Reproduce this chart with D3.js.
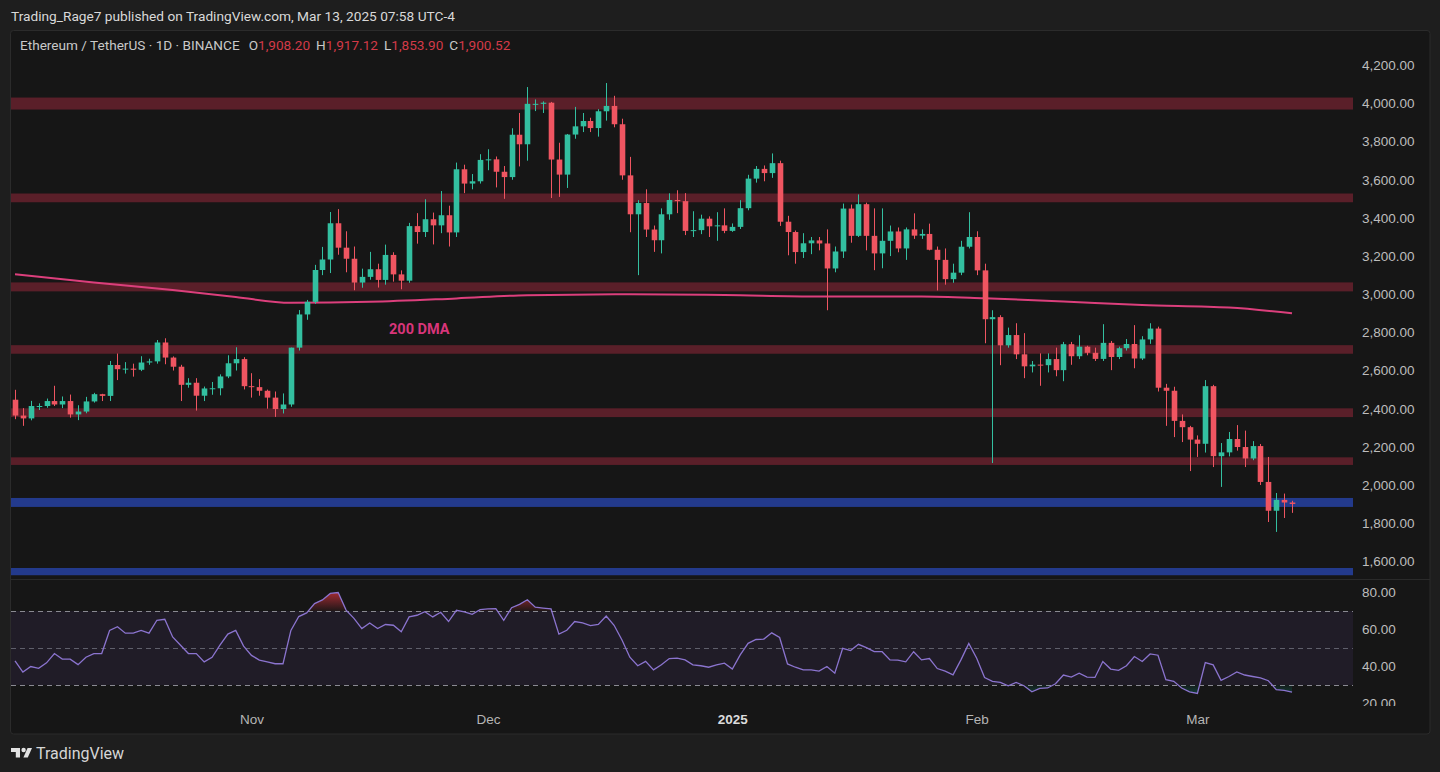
<!DOCTYPE html>
<html>
<head>
<meta charset="utf-8">
<title>ETH/USDT 1D</title>
<script src="https://cdn.jsdelivr.net/npm/d3@7"></script>
<style>
  html, body { margin: 0; padding: 0; background: #1e1e1e; overflow: hidden; }
  svg { display: block; font-family: Roboto, "Noto Sans", "DejaVu Sans", sans-serif; }
</style>
</head>
<body>
<div id="chart"></div>
<script>
// ---- data (daily candles, 2 Oct 2024 -> 13 Mar 2025) ----
const firstDay = '2024-10-02';
const lastDay = '2025-03-13';

const opens = [
  2447, 2364, 2349, 2414, 2414, 2440, 2422, 2440, 2370, 2385,
  2438, 2476, 2467, 2629, 2607, 2610, 2604, 2642, 2648, 2747,
  2668, 2620, 2525, 2536, 2468, 2506, 2507, 2569, 2638, 2660,
  2518, 2513, 2494, 2458, 2398, 2422, 2720, 2894, 2960, 3127,
  3182, 3372, 3244, 3186, 3061, 3091, 3131, 3075, 3206, 3104,
  3071, 3357, 3326, 3393, 3361, 3414, 3324, 3655, 3580, 3592,
  3704, 3707, 3642, 3614, 3836, 3786, 3998, 3998, 4004, 3706,
  3627, 3837, 3880, 3908, 3871, 3959, 3987, 3891, 3623, 3419,
  3478, 3339, 3283, 3419, 3494, 3488, 3332, 3336, 3396, 3356,
  3361, 3332, 3353, 3451, 3606, 3657, 3635, 3687, 3380, 3326,
  3221, 3267, 3282, 3266, 3135, 3224, 3449, 3306, 3472, 3306,
  3214, 3280, 3329, 3240, 3340, 3307, 3316, 3233, 3180, 3079,
  3113, 3249, 3300, 3125, 2869, 2880, 2732, 2786, 2685, 2622,
  2631, 2628, 2660, 2602, 2738, 2675, 2725, 2693, 2661, 2745,
  2671, 2717, 2739, 2663, 2763, 2820, 2510, 2494, 2336, 2303,
  2238, 2216, 2518, 2151, 2171, 2241, 2199, 2139, 2204, 2016,
  1865, 1922, 1908.20
];
const highs = [
  2499, 2403, 2441, 2428, 2453, 2520, 2464, 2474, 2418, 2462,
  2483, 2478, 2650, 2689, 2644, 2636, 2675, 2662, 2760, 2769,
  2674, 2630, 2560, 2560, 2516, 2540, 2580, 2680, 2722, 2670,
  2586, 2555, 2500, 2490, 2480, 2720, 2917, 2970, 3154, 3248,
  3431, 3446, 3330, 3250, 3134, 3222, 3160, 3260, 3220, 3125,
  3374, 3425, 3498, 3428, 3541, 3464, 3690, 3679, 3630, 3734,
  3760, 3722, 3672, 3870, 3950, 4086, 4021, 4011, 4008, 3794,
  3840, 3982, 3950, 3925, 3970, 4107, 4040, 3920, 3720, 3493,
  3550, 3360, 3450, 3529, 3545, 3530, 3435, 3417, 3408, 3430,
  3450, 3371, 3493, 3626, 3672, 3675, 3738, 3700, 3411, 3334,
  3320, 3300, 3300, 3340, 3250, 3475, 3470, 3523, 3480, 3450,
  3450, 3360, 3350, 3350, 3424, 3340, 3370, 3250, 3240, 3160,
  3280, 3430, 3330, 3160, 2916, 2890, 2825, 2848, 2796, 2650,
  2690, 2690, 2720, 2750, 2750, 2785, 2730, 2720, 2843, 2755,
  2725, 2765, 2838, 2780, 2848, 2830, 2530, 2515, 2370, 2310,
  2260, 2550, 2525, 2220, 2278, 2314, 2285, 2230, 2215, 2147,
  1958, 1955, 1917.12
];
const lows = [
  2345, 2310, 2339, 2393, 2405, 2414, 2403, 2353, 2340, 2376,
  2432, 2440, 2440, 2550, 2584, 2568, 2597, 2630, 2636, 2633,
  2600, 2440, 2510, 2390, 2440, 2473, 2470, 2560, 2600, 2501,
  2458, 2468, 2400, 2357, 2375, 2410, 2705, 2866, 2950, 3100,
  3111, 3207, 3115, 3021, 3034, 3076, 3035, 3050, 3066, 3026,
  3060, 3265, 3300, 3261, 3320, 3250, 3300, 3530, 3550, 3580,
  3650, 3560, 3500, 3600, 3670, 3700, 3960, 3950, 3504, 3510,
  3557, 3815, 3850, 3850, 3826, 3910, 3875, 3600, 3325, 3100,
  3300, 3222, 3214, 3390, 3425, 3310, 3300, 3315, 3300, 3280,
  3320, 3327, 3342, 3440, 3585, 3592, 3610, 3358, 3204, 3160,
  3190, 3210, 3230, 2916, 3115, 3190, 3270, 3300, 3230, 3126,
  3136, 3200, 3220, 3180, 3290, 3290, 3230, 3020, 3050, 3060,
  3100, 3240, 3100, 2743, 2115, 2628, 2720, 2660, 2560, 2590,
  2520, 2590, 2570, 2544, 2630, 2660, 2680, 2650, 2650, 2602,
  2660, 2705, 2612, 2655, 2740, 2490, 2310, 2251, 2225, 2073,
  2147, 2170, 2094, 1990, 2150, 2180, 2094, 2130, 2000, 1806,
  1754, 1827, 1853.90
];
const closes = [
  2364, 2349, 2414, 2414, 2440, 2422, 2440, 2370, 2385, 2438,
  2476, 2467, 2629, 2607, 2610, 2604, 2642, 2648, 2747, 2668,
  2620, 2525, 2536, 2468, 2506, 2507, 2569, 2638, 2660, 2518,
  2513, 2494, 2458, 2398, 2422, 2720, 2894, 2960, 3127, 3182,
  3372, 3244, 3186, 3061, 3091, 3131, 3075, 3206, 3104, 3071,
  3357, 3326, 3393, 3361, 3414, 3324, 3655, 3580, 3592, 3704,
  3707, 3642, 3614, 3836, 3786, 3998, 3998, 4004, 3706, 3627,
  3837, 3880, 3908, 3871, 3959, 3987, 3891, 3623, 3419, 3478,
  3339, 3283, 3419, 3494, 3488, 3332, 3336, 3396, 3356, 3361,
  3332, 3353, 3451, 3606, 3657, 3635, 3687, 3380, 3326, 3221,
  3267, 3282, 3266, 3135, 3224, 3449, 3306, 3472, 3306, 3214,
  3280, 3329, 3240, 3340, 3307, 3316, 3233, 3180, 3079, 3113,
  3249, 3300, 3125, 2869, 2880, 2732, 2786, 2685, 2622, 2631,
  2628, 2660, 2602, 2738, 2675, 2725, 2693, 2661, 2745, 2671,
  2717, 2739, 2663, 2763, 2820, 2510, 2494, 2336, 2303, 2238,
  2216, 2518, 2151, 2171, 2241, 2199, 2139, 2204, 2016, 1865,
  1922, 1908.20, 1900.52
];

const rsiValues = [
  43, 37, 40, 39, 42, 47, 44, 44, 41, 45,
  47, 47, 59.5, 61.5, 58, 58, 59.5, 58, 65, 65.5,
  56, 51.5, 47, 47, 42.5, 45, 51.5, 57.5, 59.5, 51,
  46, 43.5, 42.5, 41.5, 41.5, 59.5, 67, 69, 74, 76,
  79.5, 80, 70.5, 66, 60.5, 63.5, 60.5, 62.7, 62.3, 58.8,
  66.8, 67.7, 69.6, 66.8, 69.3, 64.3, 70.4, 69.5, 68.2, 70.7,
  71.1, 71.3, 65, 71.8, 73.6, 76.1, 72.1, 71.6, 71.1, 57.5,
  59.6, 64.3, 63.6, 62.1, 62.7, 67.3, 62.3, 54.3, 45, 40.4,
  42.8, 38.2, 40.9, 44.3, 44.5, 43.6, 40.9, 40.4, 39.6, 40.9,
  41.8, 38.6, 46.3, 52.5, 54.6, 54.8, 58.2, 55.7, 41.4, 39.6,
  38.2, 38.2, 37.5, 40, 36.4, 49.8, 48.6, 52, 50.2, 48,
  48, 43.6, 43.4, 42.5, 48, 43.6, 44.3, 38.9, 37.5, 35.5,
  43.6, 52.5, 44.5, 34, 32, 31.4, 29.6, 31.4, 29.6, 26.3,
  28.2, 28.4, 30.7, 35.4, 34.3, 36.4, 34.3, 34.1, 42.7, 38.6,
  37.9, 40.4, 45.4, 42.7, 46.8, 46.1, 32.9, 32, 28.4, 26.3,
  25.4, 42.1, 40.9, 32.5, 34.6, 37.1, 35.4, 34.6, 33.8, 32.3,
  27.5, 27.1, 26.1
];

// 200 day moving average, sampled along the pink line (candle index -> price)
const dmaIndex = [0, 10, 20, 28, 35, 45, 56, 65, 78, 90, 102, 115, 123, 133, 143, 154, 162];
const dmaValue = [3105, 3062, 3022, 2985, 2955, 2960, 2978, 2995, 3000, 2996, 2988, 2988, 2979, 2962, 2943, 2930, 2900];

// support / resistance zones drawn on the chart
const zoneLow  = [3968, 3482, 3015, 2688, 2356, 2105, 1885, 1527];
const zoneHigh = [4031, 3528, 3062, 2733, 2402, 2145, 1932, 1565];
const zoneColor = ['red', 'red', 'red', 'red', 'red', 'red', 'blue', 'blue'];

const priceTicks = [1600, 1800, 2000, 2200, 2400, 2600, 2800, 3000, 3200, 3400, 3600, 3800, 4000, 4200];
const rsiTicks = [20, 40, 60, 80];
const rsiBands = [70, 50, 30];
const monthTicks = ['2024-11-01', '2024-12-01', '2025-01-01', '2025-02-01', '2025-03-01'];

const headerText = 'Trading_Rage7 published on TradingView.com, Mar 13, 2025 07:58 UTC-4';
const symbolText = 'Ethereum / TetherUS \u00b7 1D \u00b7 BINANCE';
const ohlcLabels = ['O', 'H', 'L', 'C'];
const ohlcValues = [1908.20, 1917.12, 1853.90, 1900.52];


class CandleChart {

  constructor(el) {
    this.element = el;
    this.width = 1440;
    this.height = 772;
    // price pane, rsi pane, axis strips
    this.pane = { left: 11, right: 1353, top: 31, bottom: 579 };
    this.rsiPane = { top: 579, bottom: 706 };
    this.frameRight = 1430;
    this.frameBottom = 734;
    this.upColor = '#33bfa0';
    this.downColor = '#ef5561';
    this.draw();
  }

  draw() {
    this.svg = d3.select(this.element).append('svg')
      .attr('width', this.width)
      .attr('height', this.height);

    this.svg.append('rect')
      .attr('width', this.width).attr('height', this.height)
      .attr('fill', '#1e1e1e');

    this.days = d3.utcDay.range(new Date(firstDay), d3.utcDay.offset(new Date(lastDay), 1));

    this.createScales();
    this.addFrame();
    this.addZones();
    this.addDma();
    this.addCandles();
    this.addRsi();
    this.addAxes();
    this.addTexts();
  }

  createScales() {
    const days = this.days;
    this.x = d3.scaleUtc()
      .domain([days[0], days[days.length - 1]])
      .range([15, 1292]);

    this.y = d3.scaleLinear()
      .domain([1600, 4200])
      .range([561.3, 65.3]);

    this.yRsi = d3.scaleLinear()
      .domain([20, 80])
      .range([703.5, 592.5]);
  }

  addFrame() {
    const p = this.pane;
    this.svg.append('rect')
      .attr('x', p.left - 0.5).attr('y', p.top - 0.5)
      .attr('width', this.frameRight - p.left + 0.5)
      .attr('height', this.frameBottom - p.top + 0.5)
      .attr('rx', 3)
      .attr('fill', '#161616')
      .attr('stroke', '#2b2b2b');

    // pane separator
    this.svg.append('line')
      .attr('x1', p.left).attr('x2', this.frameRight)
      .attr('y1', p.bottom + 0.5).attr('y2', p.bottom + 0.5)
      .attr('stroke', '#2a2a2a');

    const defs = this.svg.append('defs');
    defs.append('clipPath').attr('id', 'clip-price')
      .append('rect')
      .attr('x', p.left).attr('y', p.top)
      .attr('width', p.right - p.left).attr('height', p.bottom - p.top);
    defs.append('clipPath').attr('id', 'clip-rsi')
      .append('rect')
      .attr('x', p.left).attr('y', this.rsiPane.top + 1)
      .attr('width', p.right - p.left).attr('height', this.rsiPane.bottom - this.rsiPane.top - 1);
    defs.append('clipPath').attr('id', 'clip-rsi-axis')
      .append('rect')
      .attr('x', p.right).attr('y', this.rsiPane.top + 1)
      .attr('width', this.frameRight - p.right).attr('height', this.rsiPane.bottom - this.rsiPane.top - 1);
    defs.append('clipPath').attr('id', 'clip-ob')
      .append('rect')
      .attr('x', p.left).attr('y', this.rsiPane.top)
      .attr('width', p.right - p.left).attr('height', this.yRsi(70) - this.rsiPane.top);
    defs.append('clipPath').attr('id', 'clip-os')
      .append('rect')
      .attr('x', p.left).attr('y', this.yRsi(30))
      .attr('width', p.right - p.left).attr('height', this.rsiPane.bottom - this.yRsi(30));

    const ob = defs.append('linearGradient').attr('id', 'grad-ob')
      .attr('gradientUnits', 'userSpaceOnUse')
      .attr('x1', 0).attr('x2', 0)
      .attr('y1', this.yRsi(81)).attr('y2', this.yRsi(70));
    ob.append('stop').attr('offset', 0).attr('stop-color', '#e0343f').attr('stop-opacity', 0.75);
    ob.append('stop').attr('offset', 1).attr('stop-color', '#e0343f').attr('stop-opacity', 0.05);

    const os = defs.append('linearGradient').attr('id', 'grad-os')
      .attr('gradientUnits', 'userSpaceOnUse')
      .attr('x1', 0).attr('x2', 0)
      .attr('y1', this.yRsi(30)).attr('y2', this.yRsi(22));
    os.append('stop').attr('offset', 0).attr('stop-color', '#089981').attr('stop-opacity', 0.05);
    os.append('stop').attr('offset', 1).attr('stop-color', '#089981').attr('stop-opacity', 0.5);
  }

  addZones() {
    const p = this.pane;
    const g = this.svg.append('g').attr('clip-path', 'url(#clip-price)');
    g.selectAll('.zone')
      .data(zoneLow.map((lo, i) => ({ lo: lo, hi: zoneHigh[i], kind: zoneColor[i] })))
      .join('rect')
      .attr('class', 'zone')
      .attr('x', p.left)
      .attr('width', p.right - p.left)
      .attr('y', d => this.y(d.hi))
      .attr('height', d => this.y(d.lo) - this.y(d.hi))
      .attr('fill', d => d.kind === 'blue' ? '#233a8c' : '#5a1f29');
  }

  addDma() {
    const line = d3.line()
      .curve(d3.curveMonotoneX)
      .x(i => this.x(this.days[i]))
      .y((i, k) => this.y(dmaValue[k]));

    this.svg.append('g').attr('clip-path', 'url(#clip-price)')
      .append('path')
      .attr('d', line(dmaIndex))
      .attr('fill', 'none')
      .attr('stroke', '#dc3f7c')
      .attr('stroke-width', 2);
  }

  addCandles() {
    const idx = d3.range(this.days.length);
    const bw = 5.6;
    const colour = i => closes[i] >= opens[i] ? this.upColor : this.downColor;
    const cx = i => Math.round(this.x(this.days[i])) + 0.5;

    const g = this.svg.append('g').attr('clip-path', 'url(#clip-price)');

    g.selectAll('.wick').data(idx).join('line')
      .attr('class', 'wick')
      .attr('x1', cx).attr('x2', cx)
      .attr('y1', i => this.y(highs[i]))
      .attr('y2', i => this.y(lows[i]))
      .attr('stroke', colour)
      .attr('stroke-width', 1);

    g.selectAll('.body').data(idx).join('rect')
      .attr('class', 'body')
      .attr('x', i => cx(i) - bw / 2)
      .attr('width', bw)
      .attr('y', i => this.y(Math.max(opens[i], closes[i])))
      .attr('height', i => Math.max(1, Math.abs(this.y(opens[i]) - this.y(closes[i]))))
      .attr('fill', colour);
  }

  addRsi() {
    const p = this.pane;
    const yr = this.yRsi;
    const g = this.svg.append('g').attr('clip-path', 'url(#clip-rsi)');
    const idx = d3.range(rsiValues.length);
    const xi = i => this.x(this.days[i]);

    // 30-70 background band
    g.append('rect')
      .attr('x', p.left).attr('width', p.right - p.left)
      .attr('y', yr(70)).attr('height', yr(30) - yr(70))
      .attr('fill', '#7e57c2').attr('fill-opacity', 0.1);

    // dashed guide lines
    g.selectAll('.band').data(rsiBands).join('line')
      .attr('class', 'band')
      .attr('x1', p.left).attr('x2', p.right)
      .attr('y1', d => Math.round(yr(d)) + 0.5)
      .attr('y2', d => Math.round(yr(d)) + 0.5)
      .attr('stroke', d => d === 50 ? '#5f5f6b' : '#8a8a92')
      .attr('stroke-dasharray', '5 4');

    // overbought / oversold shading
    g.append('path')
      .attr('clip-path', 'url(#clip-ob)')
      .attr('d', d3.area().x(xi).y0(yr(70)).y1(i => yr(rsiValues[i]))(idx))
      .attr('fill', 'url(#grad-ob)');
    g.append('path')
      .attr('clip-path', 'url(#clip-os)')
      .attr('d', d3.area().x(xi).y0(yr(30)).y1(i => yr(rsiValues[i]))(idx))
      .attr('fill', 'url(#grad-os)');

    g.append('path')
      .attr('d', d3.line().x(xi).y(i => yr(rsiValues[i]))(idx))
      .attr('fill', 'none')
      .attr('stroke', '#8b74cf')
      .attr('stroke-width', 1.3);
  }

  addAxes() {
    const p = this.pane;
    const fmt = d3.format(',.2f');

    const yAxis = d3.axisRight(this.y)
      .tickValues(priceTicks)
      .tickFormat(fmt)
      .tickSize(0)
      .tickPadding(9);

    const ya = this.svg.append('g')
      .attr('transform', `translate(${p.right},0)`)
      .call(yAxis);
    ya.select('.domain').remove();
    ya.selectAll('text').attr('fill', '#bdbdbd').style('font-size', '13.5px');

    const rAxis = d3.axisRight(this.yRsi)
      .tickValues(rsiTicks)
      .tickFormat(fmt)
      .tickSize(0)
      .tickPadding(9);

    const ra = this.svg.append('g')
      .attr('clip-path', 'url(#clip-rsi-axis)')
      .append('g')
      .attr('transform', `translate(${p.right},0)`)
      .call(rAxis);
    ra.select('.domain').remove();
    ra.selectAll('text').attr('fill', '#bdbdbd').style('font-size', '13.5px');

    // month labels under the rsi pane
    const xAxis = d3.axisBottom(this.x)
      .tickValues(monthTicks.map(d => new Date(d)))
      .tickFormat(d => d.getUTCMonth() === 0 ? d3.utcFormat('%Y')(d) : d3.utcFormat('%b')(d))
      .tickSize(0)
      .tickPadding(8);

    const xa = this.svg.append('g')
      .attr('transform', `translate(0,${this.rsiPane.bottom})`)
      .call(xAxis);
    xa.select('.domain').remove();
    xa.selectAll('text')
      .attr('fill', d => d.getUTCMonth() === 0 ? '#dcdcdc' : '#b5b5b5')
      .style('font-weight', d => d.getUTCMonth() === 0 ? 'bold' : 'normal')
      .style('font-size', '13.5px');
  }

  addTexts() {
    this.svg.append('text')
      .attr('x', 11).attr('y', 21)
      .attr('fill', '#d9d9d9')
      .style('font-size', '13.7px')
      .text(headerText);

    const legend = this.svg.append('text')
      .attr('x', 20).attr('y', 50)
      .attr('fill', '#c9c9c9')
      .style('font-size', '13.6px');
    legend.append('tspan').text(symbolText);
    ohlcLabels.forEach((lab, k) => {
      legend.append('tspan').attr('dx', k === 0 ? 9 : 6).text(lab);
      legend.append('tspan').attr('fill', '#d23a48').text(d3.format(',.2f')(ohlcValues[k]));
    });

    this.svg.append('text')
      .attr('x', 389).attr('y', 334)
      .attr('fill', '#d8357a')
      .style('font-size', '14.5px')
      .style('font-weight', 'bold')
      .text('200 DMA');

    // footer logo
    const logo = this.svg.append('g').attr('fill', '#e2e2e2');
    logo.append('path').attr('d', 'M11 748 h9 v9.5 h-4.2 v-5.5 h-4.8 z');
    logo.append('circle').attr('cx', 23.6).attr('cy', 750).attr('r', 2.2);
    logo.append('path').attr('d', 'M23.4 757.5 l4.2 -9.5 h4.4 l-4.2 9.5 z');
    logo.append('text')
      .attr('x', 36).attr('y', 758.5)
      .attr('fill', '#d6d6d6')
      .style('font-size', '16px')
      .text('TradingView');
  }
}

new CandleChart(document.getElementById('chart'));
</script>
</body>
</html>
